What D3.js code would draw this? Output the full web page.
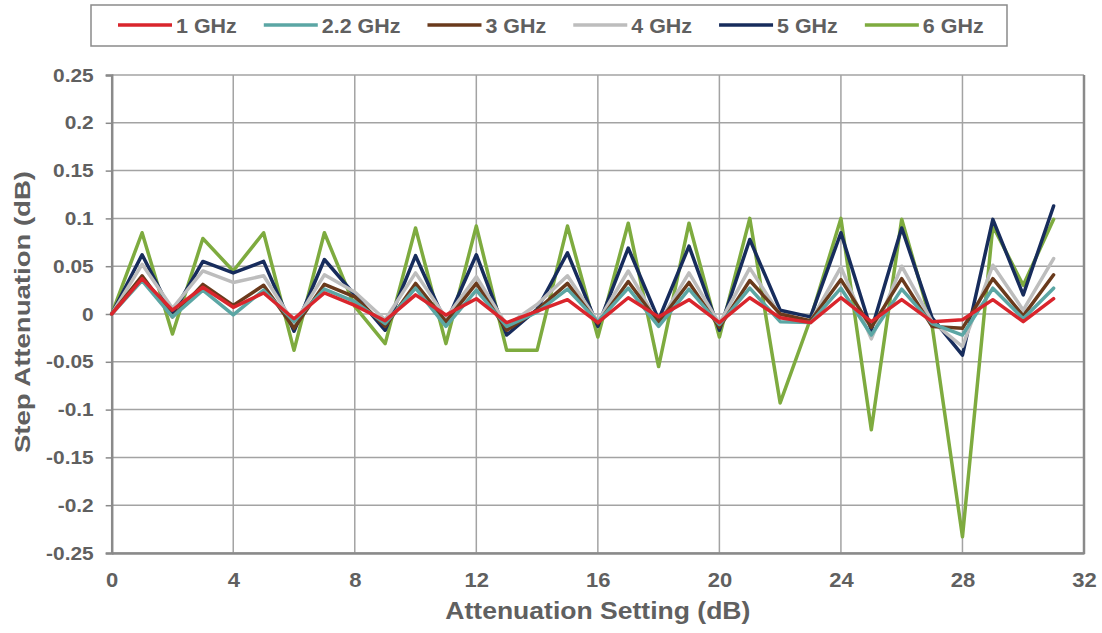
<!DOCTYPE html>
<html><head><meta charset="utf-8">
<script src="https://cdn.jsdelivr.net/npm/d3@7"></script>
<style>
body{margin:0;background:#fff;}
text{font-family:"Liberation Sans",Arial,sans-serif;font-weight:bold;fill:#606060;}
</style></head>
<body><svg id="c" width="1102" height="633"></svg>
<script>
const xValues = d3.range(0, 32);
const seriesNames = ["1 GHz","2.2 GHz","3 GHz","4 GHz","5 GHz","6 GHz"];
const seriesColors = ["#d9252c","#5ba6a4","#6a3a1c","#bdbdbd","#172c5c","#7eab3f"];
const s1GHz  = [0,0.037,0.004,0.028,0.007,0.022,-0.005,0.022,0.009,-0.007,0.020,-0.001,0.016,-0.009,0.003,0.015,-0.009,0.017,-0.003,0.015,-0.009,0.017,-0.004,-0.009,0.017,-0.008,0.015,-0.008,-0.006,0.015,-0.008,0.016];
const s22GHz = [0,0.035,-0.003,0.025,-0.001,0.025,-0.008,0.026,0.013,-0.010,0.027,-0.013,0.025,-0.013,0.002,0.026,-0.008,0.027,-0.013,0.026,-0.011,0.027,-0.008,-0.009,0.027,-0.022,0.026,-0.010,-0.022,0.027,-0.005,0.027];
const s3GHz  = [0,0.040,-0.003,0.031,0.009,0.030,-0.015,0.031,0.018,-0.013,0.032,-0.008,0.032,-0.017,0.004,0.032,-0.010,0.034,-0.009,0.033,-0.014,0.035,0.000,-0.007,0.036,-0.014,0.037,-0.013,-0.015,0.037,-0.002,0.041];
const s4GHz  = [0,0.052,0.006,0.045,0.033,0.040,-0.010,0.041,0.023,-0.006,0.043,-0.004,0.039,-0.012,0.010,0.040,-0.008,0.045,-0.010,0.043,-0.010,0.048,-0.001,-0.008,0.049,-0.026,0.050,-0.008,-0.034,0.051,0.004,0.058];
const s5GHz  = [0,0.062,0.000,0.055,0.043,0.055,-0.018,0.057,0.020,-0.017,0.061,-0.010,0.062,-0.022,0.005,0.064,-0.013,0.069,-0.006,0.071,-0.017,0.078,0.004,-0.003,0.085,-0.017,0.090,-0.004,-0.043,0.099,0.020,0.113];
const s6GHz  = [0,0.085,-0.021,0.079,0.045,0.085,-0.038,0.085,0.008,-0.031,0.090,-0.031,0.092,-0.038,-0.038,0.092,-0.024,0.095,-0.055,0.095,-0.024,0.100,-0.093,-0.005,0.100,-0.121,0.099,-0.012,-0.233,0.092,0.030,0.099];
const seriesValues = [s1GHz, s22GHz, s3GHz, s4GHz, s5GHz, s6GHz];
const xTicks = [0,4,8,12,16,20,24,28,32];
const yTicks = [-0.25,-0.2,-0.15,-0.1,-0.05,0,0.05,0.1,0.15,0.2,0.25];
const yTickLabels = ["-0.25","-0.2","-0.15","-0.1","-0.05","0","0.05","0.1","0.15","0.2","0.25"];
const xTitle = "Attenuation Setting (dB)";
const yTitle = "Step Attenuation (dB)";

const svg = d3.select("#c");
const L = 111.7, R = 1084, T = 75, B = 553;
const x = d3.scaleLinear().domain([0,32]).range([L,R]);
const y = d3.scaleLinear().domain([-0.25,0.25]).range([B,T]);
const STRETCH = 1.1;
const grid = "#a3a3a3", axisC = "#8a8a8a";

svg.append("rect").attr("width",1102).attr("height",633).attr("fill","#fff");

// gridlines
svg.append("g").selectAll("line").data(yTicks).join("line")
  .attr("x1",L).attr("x2",R).attr("y1",d=>y(d)).attr("y2",d=>y(d))
  .attr("stroke",grid).attr("stroke-width",1.5);
svg.append("g").selectAll("line").data(xTicks.slice(1,-1)).join("line")
  .attr("y1",T).attr("y2",B).attr("x1",d=>x(d)).attr("x2",d=>x(d))
  .attr("stroke",grid).attr("stroke-width",1.5);
// right border
svg.append("line").attr("x1",R).attr("x2",R).attr("y1",T).attr("y2",B+1)
  .attr("stroke",axisC).attr("stroke-width",2.5);

// axes
const yAxis = d3.axisLeft(y).tickValues(yTicks).tickSize(6).tickPadding(12)
  .tickFormat((d,i)=>yTickLabels[i]);
const gy = svg.append("g").attr("transform",`translate(${L},0)`).call(yAxis);
gy.select(".domain").attr("stroke",axisC).attr("stroke-width",2.5);
gy.selectAll(".tick line").attr("stroke",axisC).attr("stroke-width",1.5);
gy.selectAll(".tick text").attr("font-size",19).attr("fill","#606060")
  .attr("font-family","Liberation Sans, Arial, sans-serif").attr("font-weight","bold")
  .each(function(){const w=this.getComputedTextLength();d3.select(this).attr("textLength",w*STRETCH).attr("lengthAdjust","spacingAndGlyphs");});

const xAxis = d3.axisBottom(x).tickValues(xTicks).tickSize(0).tickPadding(0).tickFormat(d3.format("d"));
const gx = svg.append("g").attr("transform",`translate(0,${B})`).call(xAxis);
gx.select(".domain").attr("stroke",axisC).attr("stroke-width",2.5);
gx.selectAll(".tick text").attr("font-size",20).attr("fill","#606060").attr("y",34).attr("dy",0)
  .attr("font-family","Liberation Sans, Arial, sans-serif").attr("font-weight","bold")
  .each(function(){const w=this.getComputedTextLength();d3.select(this).attr("textLength",w*STRETCH).attr("lengthAdjust","spacingAndGlyphs");});

// titles
const xt = svg.append("text").attr("x",(L+R)/2).attr("y",619).attr("text-anchor","middle")
  .attr("font-size",23).text(xTitle);
xt.attr("textLength",305).attr("lengthAdjust","spacingAndGlyphs");
const yt = svg.append("text").attr("transform",`translate(30,312) rotate(-90)`).attr("text-anchor","middle")
  .attr("font-size",22).text(yTitle);
yt.attr("textLength",282).attr("lengthAdjust","spacingAndGlyphs");

// lines (drawn in reverse order so 1 GHz on top)
const line = d3.line().x((d,i)=>x(xValues[i])).y(d=>y(d));
const order = d3.range(seriesValues.length).reverse();
svg.append("g").selectAll("path").data(order).join("path")
  .attr("d",i=>line(seriesValues[i]))
  .attr("fill","none").attr("stroke",i=>seriesColors[i]).attr("stroke-width",3.5)
  .attr("stroke-linejoin","round").attr("stroke-linecap","round");

// legend
const lg = svg.append("g");
lg.append("rect").attr("x",91).attr("y",5).attr("width",916).attr("height",41)
  .attr("fill","#fff").attr("stroke",axisC).attr("stroke-width",1.5);
let cx = 118;
seriesNames.forEach((n,i)=>{
  lg.append("line").attr("x1",cx).attr("x2",cx+54).attr("y1",25).attr("y2",25)
    .attr("stroke",seriesColors[i]).attr("stroke-width",3.5);
  const t = lg.append("text").attr("x",cx+58).attr("y",32.5).attr("font-size",19.5).text(n);
  const w = t.node().getComputedTextLength()*STRETCH;
  t.attr("textLength",w).attr("lengthAdjust","spacingAndGlyphs");
  cx = cx + 58 + w + 27;
});
</script></body></html>
